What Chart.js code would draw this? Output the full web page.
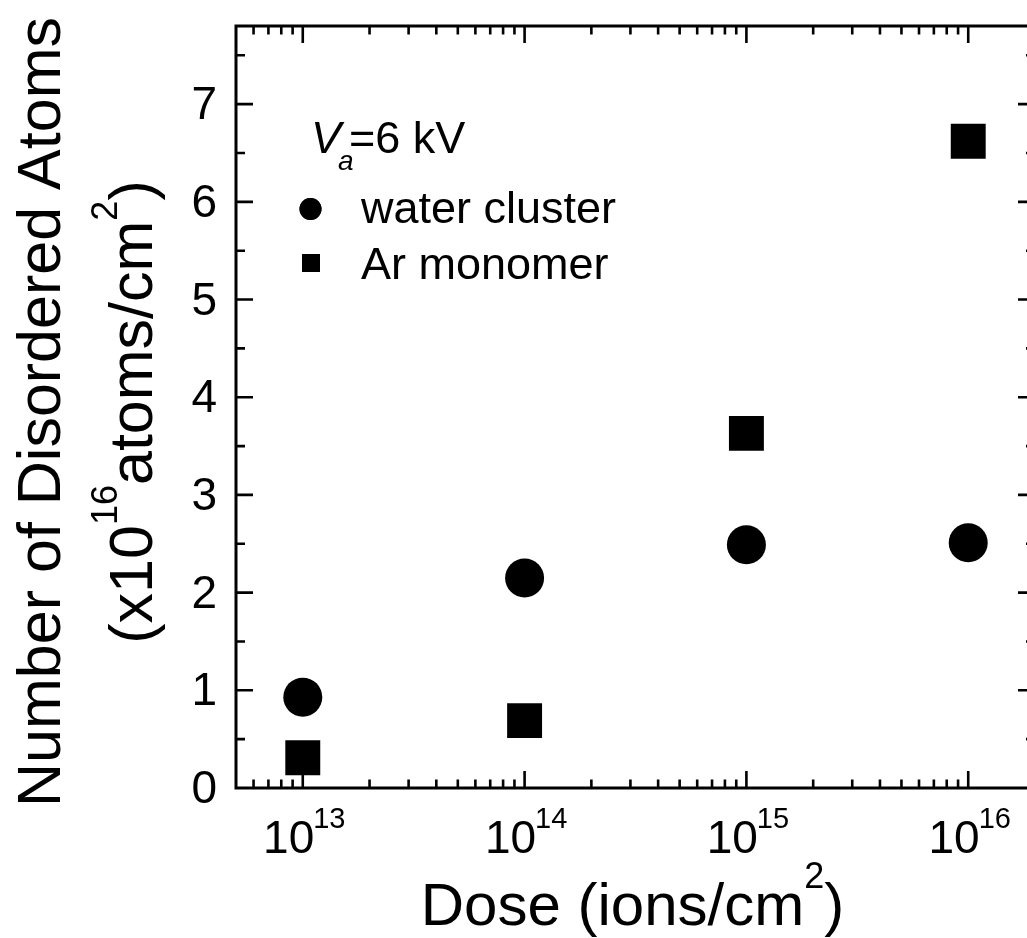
<!DOCTYPE html>
<html>
<head>
<meta charset="utf-8">
<script src="https://cdn.jsdelivr.net/npm/chart.js@4.4.1/dist/chart.umd.min.js"></script>
<style>
  html, body { margin: 0; padding: 0; background: #fff; overflow: hidden; width: 1027px; height: 938px; }
  #wrap { position: absolute; left: 0; top: 0; width: 1060px; height: 938px; }
</style>
</head>
<body>
<div id="wrap"><canvas id="c" width="1060" height="938"></canvas></div>
<script>
// ---- data ----
const doses = [1e13, 1e14, 1e15, 1e16];
const waterCluster = [0.93, 2.15, 2.49, 2.51];
const arMonomer = [0.31, 0.69, 3.63, 6.62];
const xMajorExponents = [13, 14, 15, 16];
const yMajorTicks = [0, 1, 2, 3, 4, 5, 6, 7];
const seriesNames = ['water cluster', 'Ar monomer'];

const FONT = '"Liberation Sans", Arial, Helvetica, sans-serif';

function pts(ys) { return doses.map((d, i) => ({ x: d, y: ys[i] })); }

const framePlugin = {
  id: 'frame',
  afterDraw(chart) {
    const ctx = chart.ctx;
    const xs = chart.scales.x, ys = chart.scales.y;
    const a = chart.chartArea;
    ctx.save();
    ctx.strokeStyle = '#000';
    ctx.fillStyle = '#000';
    // box
    ctx.lineWidth = 3;
    ctx.strokeRect(a.left, a.top, a.right - a.left, a.bottom - a.top);
    ctx.lineWidth = 2.6;
    ctx.lineCap = 'butt';
    // x ticks (log)
    const xmin = xs.min, xmax = xs.max;
    for (let e = 12; e <= 16; e++) {
      for (let m = 1; m <= 9; m++) {
        const v = m * Math.pow(10, e);
        if (v <= xmin * 1.0001 || v >= xmax * 0.9999) continue;
        const px = xs.getPixelForValue(v);
        const len = (m === 1) ? 17 : 8.5;
        ctx.beginPath();
        ctx.moveTo(px, a.bottom); ctx.lineTo(px, a.bottom - len);
        ctx.moveTo(px, a.top); ctx.lineTo(px, a.top + len);
        ctx.stroke();
      }
    }
    // y ticks
    for (let v = 0.5; v < ys.max; v += 0.5) {
      const py = ys.getPixelForValue(v);
      const major = Math.abs(v - Math.round(v)) < 1e-6;
      const len = major ? 17 : 9;
      ctx.beginPath();
      ctx.moveTo(a.left, py); ctx.lineTo(a.left + len, py);
      ctx.moveTo(a.right, py); ctx.lineTo(a.right - len, py);
      ctx.stroke();
    }
    // y labels
    ctx.font = '46px ' + FONT;
    ctx.textAlign = 'right';
    ctx.textBaseline = 'alphabetic';
    yMajorTicks.forEach(v => {
      const py = ys.getPixelForValue(v);
      ctx.fillText(String(v), a.left - 19, py + 15);
    });
    // x labels 10^n
    xMajorExponents.forEach(e => {
      const px = xs.getPixelForValue(Math.pow(10, e));
      ctx.font = '46px ' + FONT;
      const w1 = ctx.measureText('10').width;
      ctx.font = '29px ' + FONT;
      const w2 = ctx.measureText(String(e)).width;
      const start = px + 2 - (w1 + w2) / 2;
      ctx.textAlign = 'left';
      ctx.font = '46px ' + FONT;
      ctx.fillText('10', start, 853);
      ctx.font = '29px ' + FONT;
      ctx.fillText(String(e), start + w1 - 1, 828);
    });
    // x title
    {
      const parts = [['Dose (ions/cm', 60, 0], ['2', 36, -37], [')', 60, 0]];
      let total = 0;
      parts.forEach(p => { ctx.font = p[1] + 'px ' + FONT; total += ctx.measureText(p[0]).width; });
      let x = (a.left + a.right) / 2 - total / 2 - 3;
      ctx.textAlign = 'left';
      parts.forEach(p => {
        ctx.font = p[1] + 'px ' + FONT;
        ctx.fillText(p[0], x, 925 + p[2]);
        x += ctx.measureText(p[0]).width;
      });
    }
    // y title (rotated)
    {
      ctx.save();
      const cy = 412;
      ctx.rotate(-Math.PI / 2);
      ctx.textAlign = 'center';
      ctx.font = '61px ' + FONT;
      ctx.fillText('Number of Disordered Atoms', -cy, 60);
      const parts = [['(x10', 61, 0], ['16', 36, -35], ['atoms/cm', 61, 0], ['2', 36, -35], [')', 61, 0]];
      let total = 0;
      parts.forEach(p => { ctx.font = p[1] + 'px ' + FONT; total += ctx.measureText(p[0]).width; });
      let x = -cy - total / 2;
      ctx.textAlign = 'left';
      parts.forEach(p => {
        ctx.font = p[1] + 'px ' + FONT;
        ctx.fillText(p[0], x, 152 + p[2]);
        x += ctx.measureText(p[0]).width;
      });
      ctx.restore();
    }
    // legend
    ctx.textAlign = 'left';
    ctx.font = 'italic 45px ' + FONT;
    ctx.fillText('V', 311, 153);
    const wv = ctx.measureText('V').width;
    ctx.font = 'italic 28px ' + FONT;
    ctx.fillText('a', 311 + wv - 3, 170);
    ctx.font = '45px ' + FONT;
    ctx.fillText('=6 kV', 349, 153);
    Chart.helpers.drawPoint(ctx, { pointStyle: 'circle', radius: 11, rotation: 0, borderWidth: 0 }, 310.5, 209);
    ctx.fill();
    ctx.fillText(seriesNames[0], 361, 223);
    ctx.fillRect(302, 254, 18, 18);
    ctx.fillText(seriesNames[1], 361, 279);
    ctx.restore();
  }
};

new Chart(document.getElementById('c'), {
  type: 'scatter',
  data: {
    datasets: [
      { label: seriesNames[0], data: pts(waterCluster), pointStyle: 'circle', pointRadius: 19.5,
        backgroundColor: '#000', borderColor: '#000', borderWidth: 0, showLine: false },
      { label: seriesNames[1], data: pts(arMonomer), pointStyle: 'rect', pointRadius: 24.7,
        backgroundColor: '#000', borderColor: '#000', borderWidth: 0, showLine: false }
    ]
  },
  options: {
    responsive: false,
    animation: false,
    layout: { padding: { left: 236, top: 26, right: 25, bottom: 150 } },
    plugins: { legend: { display: false }, tooltip: { enabled: false } },
    scales: {
      x: { type: 'logarithmic', min: 5e12, max: 2e16, display: false },
      y: { type: 'linear', min: 0, max: 7.8, display: false }
    }
  },
  plugins: [framePlugin]
});
</script>
</body>
</html>
